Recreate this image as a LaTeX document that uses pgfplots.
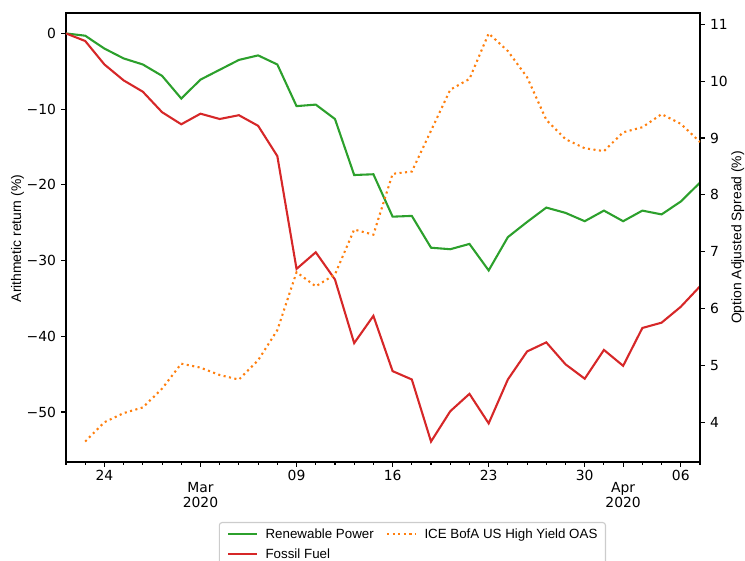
\documentclass[border=0pt]{standalone}
\usepackage{fontspec}
\setmainfont{DejaVu Sans}
\newfontfamily\arialfont{Liberation Sans}
\usepackage{pgfplots}
\pgfplotsset{compat=1.18}
\definecolor{tabgreen}{HTML}{2CA02C}
\definecolor{tabred}{HTML}{D62728}
\definecolor{taborange}{HTML}{FF7F0E}
\pgfplotstableread{
i ren fos
0 0 0
1 -0.3 -1.0
2 -2.0 -4.1
3 -3.3 -6.2
4 -4.1 -7.7
5 -5.6 -10.4
6 -8.6 -12.0
7 -6.1 -10.6
8 -4.8 -11.3
9 -3.5 -10.8
10 -2.9 -12.2
11 -4.1 -16.2
12 -9.6 -31.1
13 -9.4 -28.9
14 -11.3 -32.5
15 -18.7 -40.9
16 -18.6 -37.3
17 -24.2 -44.6
18 -24.1 -45.7
19 -28.3 -53.9
20 -28.5 -49.9
21 -27.8 -47.6
22 -31.3 -51.5
23 -26.9 -45.7
24 -24.9 -42.0
25 -23.0 -40.8
26 -23.7 -43.7
27 -24.8 -45.6
28 -23.4 -41.8
29 -24.8 -43.9
30 -23.4 -38.9
31 -23.9 -38.2
32 -22.2 -36.1
33 -19.7 -33.4
}\returns
\pgfplotstableread{
i oas
1 3.66
2 4.00
3 4.16
4 4.26
5 4.59
6 5.03
7 4.96
8 4.83
9 4.75
10 5.09
11 5.62
12 6.64
13 6.39
14 6.60
15 7.39
16 7.30
17 8.37
18 8.41
19 9.13
20 9.85
21 10.04
22 10.84
23 10.53
24 10.07
25 9.32
26 8.98
27 8.82
28 8.77
29 9.10
30 9.19
31 9.42
32 9.25
33 8.93
}\spread
\begin{document}
\begin{tikzpicture}
\useasboundingbox (0,0) rectangle (536.4pt,403.92pt);
\clip (0,0) rectangle (536.4pt,403.92pt);
\pgfplotsset{
  every tick label/.append style={font=\fontsize{10}{12}\selectfont},
}
\begin{axis}[
  name=left,
  at={(47.52pt,71.28pt)}, anchor=south west,
  scale only axis, width=456.48pt, height=323.28pt,
  xmin=0, xmax=33, ymin=-56.6, ymax=2.7,
  axis line style={line width=0.8pt},
  tick align=outside,
  xtick pos=left, ytick pos=left,
  major tick length=3.5pt, minor tick length=2pt,
  every tick/.style={black, line width=0.8pt},
  xtick={2,12,17,22,27,32},
  xticklabels={24,09,16,23,30,06},
  minor xtick={0,1,...,33},
  extra x ticks={7,29},
  extra x tick labels={{Mar\\2020},{Apr\\2020}},
  extra x tick style={tick label style={yshift=-8.8pt, align=center, font=\fontsize{10}{10.8}\selectfont}},
  xticklabel style={anchor=north, inner sep=0pt, yshift=-2.3pt},
  ytick={-50,-40,-30,-20,-10,0},
  yticklabels={−50,−40,−30,−20,−10,0},
  yticklabel style={anchor=east, inner sep=0pt, xshift=-3.5pt},
  legend columns=2,
  legend cell align=left,
  legend image code/.code={\draw[#1] (0pt,0pt) -- (20.2pt,0pt);},
  legend style={
    at={(0.241,-0.1336)}, anchor=north west,
    draw=black!20, line width=0.8pt, rounded corners=2pt,
    font=\arialfont\fontsize{9.6}{11.5}\selectfont,
    inner xsep=5.8pt, inner ysep=4.5pt,
    nodes={inner sep=0pt, text height=7.0pt, text depth=0pt},
    row sep=7.4pt,
    /tikz/every odd column/.append style={column sep=5.8pt},
    /tikz/every even column/.append style={column sep=9pt},
  },
]
\addplot[tabgreen, line width=1.5pt] table[x=i, y=ren] {\returns};
\addlegendentry{Renewable Power}
\addlegendimage{taborange, line width=1.5pt, dash pattern=on 1.5pt off 2.475pt}
\addlegendentry{ICE BofA US High Yield OAS}
\addplot[tabred, line width=1.5pt] table[x=i, y=fos] {\returns};
\addlegendentry{Fossil Fuel}
\end{axis}
\begin{axis}[
  at={(47.52pt,71.28pt)}, anchor=south west,
  scale only axis, width=456.48pt, height=323.28pt,
  xmin=0, xmax=33, ymin=3.30, ymax=11.20,
  axis x line=none, axis y line*=right,
  axis line style={line width=0.8pt, -},
  tick align=outside,
  major tick length=3.5pt,
  every tick/.style={black, line width=0.8pt},
  ytick={4,5,6,7,8,9,10,11},
  yticklabels={4,5,6,7,8,9,10,11},
  yticklabel style={anchor=west, inner sep=0pt, xshift=3.5pt},
]
\addplot[taborange, line width=1.5pt, dash pattern=on 1.5pt off 2.475pt] table[x=i, y=oas] {\spread};
\end{axis}
\node[rotate=90, font=\arialfont\fontsize{10}{12}\selectfont] at (12.6pt,232.2pt) {Arithmetic return (\%)};
\node[rotate=90, font=\arialfont\fontsize{10}{12}\selectfont] at (531.2pt,232.9pt) {Option Adjusted Spread (\%)};
\end{tikzpicture}
\end{document}
